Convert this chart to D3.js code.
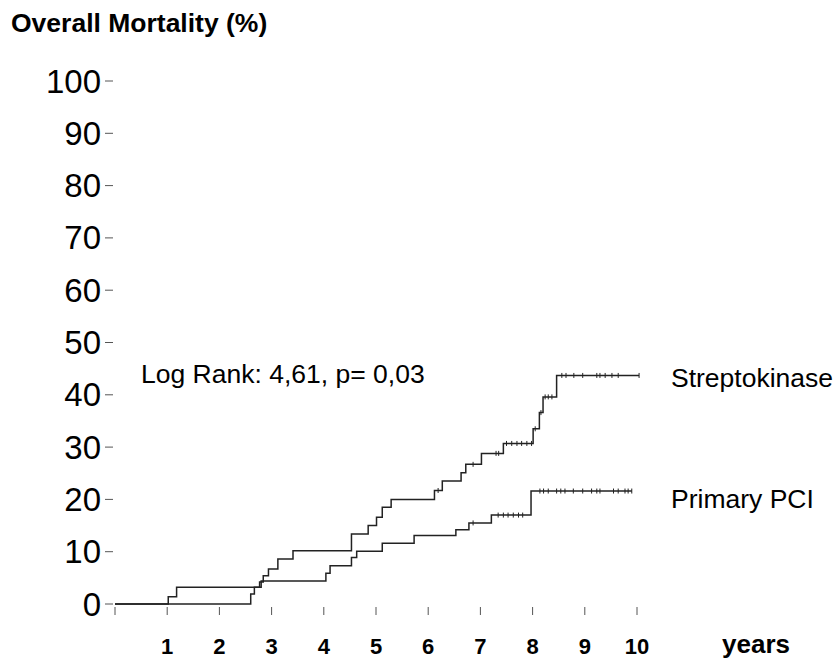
<!DOCTYPE html>
<html>
<head>
<meta charset="utf-8">
<script src="https://cdn.jsdelivr.net/npm/d3@7"></script>
<style>
    body { margin: 0; background: #fff; }
    text { font-family: "Liberation Sans", Arial, sans-serif; fill: #000; }
</style>
</head>
<body>
<div id="chart"></div>
<script>
// event steps: time in years, cumulative mortality in %
const strepTimes = [0, 2.60, 2.67, 2.77, 2.84, 2.94, 3.12, 3.41, 4.53, 4.85, 5.01, 5.12, 5.29, 6.12, 6.27, 6.63, 6.72, 7.02, 7.44, 8.01, 8.13, 8.20, 8.46];
const strepValues = [0, 1.9, 3.2, 4.2, 5.4, 6.7, 8.6, 10.2, 13.4, 15.0, 16.6, 18.5, 20.0, 21.7, 23.5, 25.1, 26.7, 28.8, 30.7, 33.5, 36.6, 39.6, 43.7];
const strepEnd = 10.04;
const strepCensored = [6.19, 6.86, 7.30, 7.35, 7.50, 7.60, 7.70, 7.79, 7.89, 7.98, 8.05, 8.16, 8.24, 8.30, 8.37, 8.56, 8.64, 8.79, 8.96, 9.23, 9.29, 9.39, 9.52, 9.64, 10.04];

const pciTimes = [0, 1.02, 1.18, 2.80, 4.04, 4.12, 4.53, 4.63, 5.12, 5.73, 6.53, 6.78, 7.21, 7.97];
const pciValues = [0, 1.4, 3.2, 4.4, 5.9, 7.3, 8.9, 10.1, 11.6, 13.1, 14.2, 15.5, 17.0, 21.6];
const pciEnd = 9.90;
const pciCensored = [6.86, 7.34, 7.44, 7.53, 7.63, 7.73, 7.81, 8.14, 8.21, 8.30, 8.46, 8.54, 8.62, 8.78, 8.96, 9.13, 9.23, 9.29, 9.55, 9.64, 9.77, 9.83, 9.90];

const yTicks = [0, 10, 20, 30, 40, 50, 60, 70, 80, 90, 100];
const xTicks = [0, 1, 2, 3, 4, 5, 6, 7, 8, 9, 10];
const xLabels = ["", "1", "2", "3", "4", "5", "6", "7", "8", "9", "10"];

const groups = [
    { name: "Streptokinase", times: strepTimes, values: strepValues, end: strepEnd, censored: strepCensored, labelY: 387 },
    { name: "Primary PCI", times: pciTimes, values: pciValues, end: pciEnd, censored: pciCensored, labelY: 508 }
];

const width = 839, height = 660;

const svg = d3.select("#chart").append("svg")
    .attr("width", width)
    .attr("height", height);

const x = d3.scaleLinear().domain([0, 10]).range([115, 637]);
const y = d3.scaleLinear().domain([0, 100]).range([604, 81]);

// title
svg.append("text")
    .attr("x", 11)
    .attr("y", 32)
    .style("font-size", "26.5px")
    .style("font-weight", "bold")
    .text("Overall Mortality (%)");

// y ticks + labels, no axis line
const yg = svg.append("g");
yg.selectAll("line")
    .data(yTicks)
    .enter().append("line")
    .attr("x1", 105).attr("x2", 113)
    .attr("y1", d => y(d)).attr("y2", d => y(d))
    .attr("stroke", "#555")
    .attr("stroke-width", 1);
yg.selectAll("text")
    .data(yTicks)
    .enter().append("text")
    .attr("x", 101)
    .attr("y", d => y(d))
    .attr("dy", "0.35em")
    .attr("text-anchor", "end")
    .style("font-size", "33px")
    .text(d => d);

// x ticks + labels
const xg = svg.append("g");
xg.selectAll("line")
    .data(xTicks)
    .enter().append("line")
    .attr("x1", d => x(d)).attr("x2", d => x(d))
    .attr("y1", 607).attr("y2", 615)
    .attr("stroke", "#555")
    .attr("stroke-width", 1);
xg.selectAll("text")
    .data(xTicks)
    .enter().append("text")
    .attr("x", d => x(d))
    .attr("y", 654)
    .attr("text-anchor", "middle")
    .style("font-size", "22px")
    .style("font-weight", "bold")
    .text((d, i) => xLabels[i]);

svg.append("text")
    .attr("x", 722)
    .attr("y", 653)
    .style("font-size", "26px")
    .style("font-weight", "bold")
    .text("years");

// step value at time t
const valueAt = (g, t) => {
    let v = 0;
    g.times.forEach((tt, i) => { if (tt <= t) v = g.values[i]; });
    return v;
};

const line = d3.line()
    .x(d => x(d[0]))
    .y(d => y(d[1]))
    .curve(d3.curveStepAfter);

groups.forEach(g => {
    const pts = g.times.map((t, i) => [t, g.values[i]]);
    pts.push([g.end, g.values[g.values.length - 1]]);

    svg.append("path")
        .datum(pts)
        .attr("fill", "none")
        .attr("stroke", "#222")
        .attr("stroke-width", 1.5)
        .attr("d", line);

    // censoring marks
    svg.append("g")
        .selectAll("line")
        .data(g.censored)
        .enter().append("line")
        .attr("x1", d => x(d)).attr("x2", d => x(d))
        .attr("y1", d => y(valueAt(g, d)) - 2.5)
        .attr("y2", d => y(valueAt(g, d)) + 2.5)
        .attr("stroke", "#222")
        .attr("stroke-width", 1);

    svg.append("text")
        .attr("x", 671)
        .attr("y", g.labelY)
        .style("font-size", "26.5px")
        .text(g.name);
});

svg.append("text")
    .attr("x", 141)
    .attr("y", 383)
    .style("font-size", "26.5px")
    .text("Log Rank: 4,61, p= 0,03");
</script>
</body>
</html>
